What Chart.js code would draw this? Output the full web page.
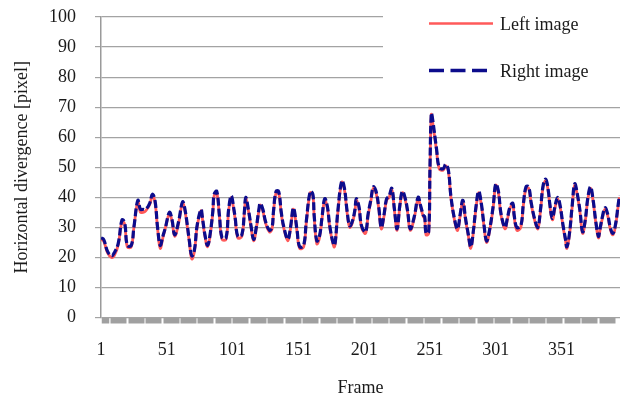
<!DOCTYPE html>
<html><head><meta charset="utf-8">
<script src="https://cdn.jsdelivr.net/npm/chart.js@4.4.1/dist/chart.umd.min.js"></script>
<style>html,body{margin:0;padding:0;background:#fff;}canvas{display:block;}</style>
</head><body>
<canvas id="c" width="620" height="401"></canvas>
<script>
const frames = [1,3,6,9,11,14,17,19,21,24,26,29,31,33,35,38,40,42,44,46,48,50,53,55,57,60,63,65,68,70,72,74,77,
78,80,82,84,86,87,89,91,93,96,98,100,102,103,105,108,110,111,113,115,117,119,121,122,124,126,129,131,132,134,136,138,140,143,145,147,148,150,152,155,157,
160,162,163,165,167,169,171,173,175,178,179,181,184,186,188,190,192,194,195,197,199,202,204,206,208,210,212,214,216,218,220,222,224,226,228,230,232,234,
236,239,242,244,246,247,248,250,251,252,253,256,258,261,263,265,267,270,272,274,276,278,280,282,284,286,288,290,292,294,296,299,301,303,305,308,310,312,314,
315,317,320,322,324,326,328,331,333,335,337,339,341,342,344,346,348,350,352,354,355,357,359,361,363,365,367,369,371,373,375,377,379,380,382,384,386,388,390,392,394,395];

const rightImage = [26.5,26,22,20.5,21.5,24.5,32.5,31.5,24,24,30,39,36,36,36,38,41,39,30,24,27,30,35,32.5,27.5,32,38.5,35.5,26,20.5,22.5,30.5,36,
33.5,27.5,24,28,35.5,41,42,34,26.5,26.5,36,40.5,36,33,27,27.5,35.5,40,36,30.5,26,30,36,38,36,32,29,30,35,42,42,35,30,26,30,36.5,35.5,29,23.5,24,32,
42,41,34,25.5,27,33.5,39.5,37,30,24,25,35.5,45.5,43,35.5,30.5,32,36,39.5,37,30.5,28.5,34.5,39,43.5,42,37,30,34,39.5,40.5,43,36,29.5,37,42,40,35.5,
29.5,33.5,40,37,34,33.5,28,28.5,50,68,66,56,50,49.5,51,49,40,32,29.5,34.5,39,33,28,23.5,29,37,42,38,31,25.5,28.5,37,44.5,42,34.5,30,33.5,37,38,
34,30,30.5,38,43.5,43.5,38,32,30,36,44,46,42,38,33,37,40,37,31,26,23.5,28,37,44.5,41,35.5,28.5,32.5,40,43.5,39,32,27,29,33.5,36.5,34.5,30,28,31,37.5,40.5];

const leftImage = [26,25.5,21.5,20,20.5,24,32,31,23.5,23.5,30,38.5,35,35,35.5,37.5,40.5,38.5,29.5,23,26.5,30,34.5,32,27,31.5,38,35,25.5,19.5,22,30,35.5,
33,27,23.5,27.5,35,40.5,41.5,33.5,26,26,35.5,40,35.5,32.5,26.5,27,35,39.5,35.5,30,25.5,29.5,35.5,37.5,35.5,31.5,28.5,29.5,34.5,41.5,41.5,34.5,29.5,25.5,29.5,36,35,28.5,23,23.5,31.5,
41.5,40.5,33.5,24.5,26.5,33,39,36.5,29.5,23.5,24.5,35,45,42.5,35,30,31.5,35.5,39,36.5,30,28,34,38.5,43,41.5,36.5,29.5,33.5,39,40,42.5,35.5,29,36.5,41.5,39.5,35,
29,33,39.5,36.5,33.5,33,27.5,28,49,67.5,65,55.5,49.5,49,50.5,48.5,39.5,31.5,29,34,38.5,32.5,27.5,23,28.5,36.5,41.5,37.5,30.5,25,28,36.5,44,41.5,34,29.5,33,36.5,37.5,
33.5,29,30,37.5,43,43,37.5,31.5,29.5,35.5,43.5,45.5,41.5,37.5,32.5,36.5,39.5,36.5,30.5,25.5,23,27.5,36.5,44,40.5,35,28,32,39.5,43,38.5,31.5,26.5,28.5,33,36,34,29.5,27.5,30.5,37,40];

const xTickLabels = [1, 51, 101, 151, 201, 251, 301, 351];
const yTickValues = [0, 10, 20, 30, 40, 50, 60, 70, 80, 90, 100];
const seriesNames = ['Left image', 'Right image'];
const axisTitles = {x: 'Frame', y: 'Horizontal divergence [pixel]'};

const FONT = 'Liberation Serif, Times New Roman, serif';
const TEXT = '#1a1a1a';
const GRID = '#a3a3a3';
const RED = '#ff5a5a';
const NAVY = '#0c0c8c';

const xMin = 1, xMax = 395.4;
const bandStart = 7.84, bandStep = 13.26;

const legendPlugin = {
  id: 'sideLegend',
  afterDraw(chart) {
    const ctx = chart.ctx;
    const ys = chart.scales.y;
    ctx.save();
    ctx.fillStyle = '#ffffff';
    ctx.fillRect(383, 0, chart.width - 383, ys.getPixelForValue(75));
    const items = [
      {name: chart.data.datasets[1].label, color: RED, width: 2.5, dash: [], y: 23.5},
      {name: chart.data.datasets[0].label, color: NAVY, width: 3.3, dash: [15, 6.5], y: 70.5}
    ];
    items.forEach(it => {
      ctx.beginPath();
      ctx.setLineDash(it.dash);
      ctx.lineWidth = it.width;
      ctx.strokeStyle = it.color;
      ctx.moveTo(429, it.y);
      ctx.lineTo(493, it.y);
      ctx.stroke();
      ctx.setLineDash([]);
      ctx.fillStyle = TEXT;
      ctx.font = '18px ' + FONT;
      ctx.textBaseline = 'middle';
      ctx.textAlign = 'left';
      ctx.fillText(it.name, 500, it.y + 2);
    });
    ctx.restore();
  }
};

new Chart(document.getElementById('c'), {
  type: 'line',
  data: {
    datasets: [
      {
        label: seriesNames[1],
        data: frames.map((f, i) => ({x: f, y: rightImage[i]})),
        borderColor: NAVY, borderWidth: 3.2, borderDash: [8, 3],
        pointRadius: 0, tension: 0.4, order: 0
      },
      {
        label: seriesNames[0],
        data: frames.map((f, i) => ({x: f, y: leftImage[i]})),
        borderColor: RED, borderWidth: 2.8,
        pointRadius: 0, tension: 0.4, order: 1
      }
    ]
  },
  options: {
    responsive: false,
    devicePixelRatio: 1,
    animation: false,
    layout: {padding: {top: 17, right: 0, left: 0, bottom: 0}},
    plugins: {legend: {display: false}, tooltip: {enabled: false}},
    scales: {
      x: {
        type: 'linear', min: xMin, max: xMax,
        afterBuildTicks(scale) {
          const t = xTickLabels.map(v => ({value: v}));
          t.push({value: (xMin + bandStart) / 2, block: 7.5});
          for (let s = bandStart; s + bandStep / 2 < xMax; s += bandStep) {
            t.push({value: s + bandStep / 2, block: 16});
          }
          scale.ticks = t;
        },
        afterFit(scale) { scale.height = 83.5; scale.paddingLeft = 0; scale.paddingRight = 0; },
        ticks: {
          autoSkip: false, maxRotation: 0, padding: 16,
          font: {family: FONT, size: 18}, color: TEXT,
          callback: (v, i, ticks) => ticks[i].block ? '' : String(v)
        },
        grid: {
          drawOnChartArea: false, drawTicks: true, tickLength: 6,
          tickColor: c => (c.tick && c.tick.block) ? '#a0a0a0' : 'rgba(0,0,0,0)',
          tickWidth: c => (c.tick && c.tick.block) ? c.tick.block : 1
        },
        border: {display: false},
        title: {display: true, text: axisTitles.x, font: {family: FONT, size: 18}, color: TEXT, padding: {top: 0, bottom: 2}}
      },
      y: {
        min: 0, max: 100,
        afterBuildTicks(scale) { scale.ticks = yTickValues.map(v => ({value: v})); },
        afterFit(scale) { scale.width = 101; scale.paddingTop = 0; scale.paddingBottom = 0; },
        ticks: {padding: 19, font: {family: FONT, size: 18}, color: TEXT},
        grid: {color: GRID, lineWidth: 1.2, tickLength: 6, tickColor: GRID},
        border: {display: true, color: '#9a9a9a', width: 1.5},
        title: {display: true, text: axisTitles.y, font: {family: FONT, size: 18}, color: TEXT, padding: {top: 11, bottom: 0}}
      }
    }
  },
  plugins: [legendPlugin]
});
</script>
</body></html>
